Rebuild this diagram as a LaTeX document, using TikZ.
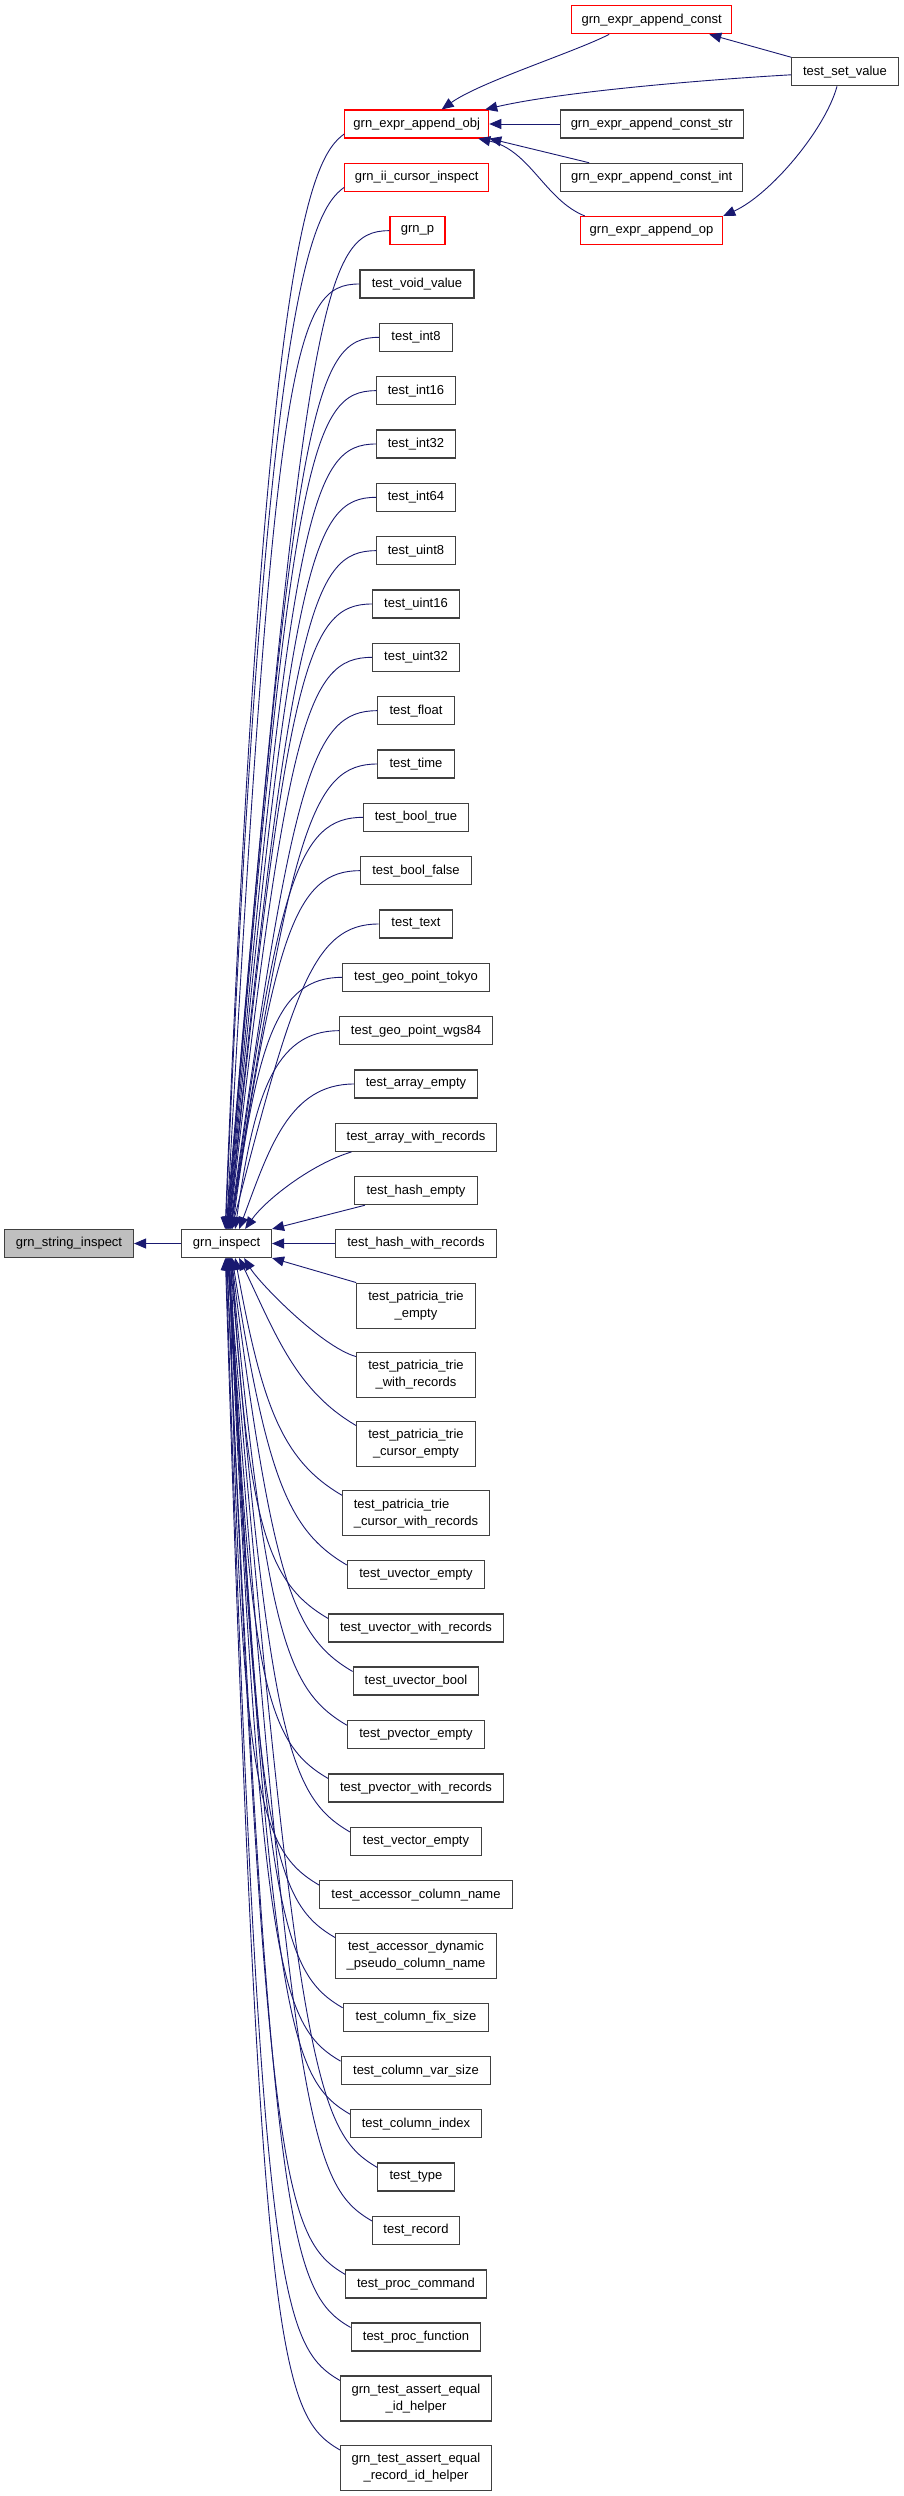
\documentclass[tikz,border=0pt]{standalone}
\usepackage{fontspec}
\setmainfont{Liberation Sans}
\usetikzlibrary{arrows.meta,calc}
\definecolor{edgecol}{HTML}{191970}
\definecolor{boxgray}{HTML}{404040}
\definecolor{fillgray}{HTML}{BFBFBF}
\newcommand{\cedge}[4]{\draw[conn] let \p1=(#1) in (\p1) .. controls ($(\p1)+(#2)$) and ($(\p1)+(#3)$) .. (#4);}
\newcommand{\tedge}[2]{\cedge{#1}{-65pt,0pt}{-85pt,-65pt}{[xshift=#2pt]gi.north west}}
\newcommand{\bedge}[2]{\cedge{#1}{-60pt,35pt}{-80pt,90pt}{[xshift=#2pt]gi.south west}}
\tikzset{
  nbox/.style={draw=boxgray, line width=1.1pt, fill=white, inner sep=0pt, minimum height=28pt,
    font=\fontsize{13}{17}\selectfont, text=black},
  rbox/.style={nbox, draw=red},
  tbox/.style={nbox, minimum height=45pt, align=center},
  conn/.style={draw=edgecol, line width=0.9pt, -{Triangle[length=12pt,width=10pt]}},
}
\begin{document}
\begin{tikzpicture}[x=1pt,y=-1pt]
\useasboundingbox (0,0) rectangle (904,2496);
% column A
\node[nbox, fill=fillgray, minimum width=129pt] (gsi) at (69,1243.5) {grn\_string\_inspect};
\node[nbox, minimum width=89.8pt] (gi) at (226.6,1243.5) {grn\_inspect};
% column C
\node[rbox, minimum width=160pt] (const) at (651.7,19.8) {grn\_expr\_append\_const};
\node[nbox, minimum width=106.6pt] (setv) at (845,71.8) {test\_set\_value};
\node[nbox, minimum width=182.7pt] (cstr) at (651.7,124) {grn\_expr\_append\_const\_str};
\node[nbox, minimum width=182pt] (cint) at (651.7,177.3) {grn\_expr\_append\_const\_int};
\node[rbox, minimum width=142.4pt] (op) at (651.5,230.5) {grn\_expr\_append\_op};
% column B
\node[rbox, minimum width=144pt] (obj) at (416.7,124) {grn\_expr\_append\_obj};
\node[rbox, minimum width=144pt] (ii) at (416.7,177.33) {grn\_ii\_cursor\_inspect};
\node[rbox, minimum width=55pt] (grnp) at (417.5,230.67) {grn\_p};
\node[nbox, minimum width=114pt] (void) at (417,284) {test\_void\_value};
\node[nbox, minimum width=72.6pt] (int8) at (416,337.33) {test\_int8};
\node[nbox, minimum width=78.6pt] (int16) at (416,390.67) {test\_int16};
\node[nbox, minimum width=78.6pt] (int32) at (416,444) {test\_int32};
\node[nbox, minimum width=78.6pt] (int64) at (416,497.33) {test\_int64};
\node[nbox, minimum width=78.6pt] (uint8) at (416,550.67) {test\_uint8};
\node[nbox, minimum width=87pt] (uint16) at (416,604) {test\_uint16};
\node[nbox, minimum width=87pt] (uint32) at (416,657.33) {test\_uint32};
\node[nbox, minimum width=76.3pt] (float) at (416,710.67) {test\_float};
\node[nbox, minimum width=76.3pt] (time) at (416,764) {test\_time};
\node[nbox, minimum width=105pt] (btrue) at (416,817.33) {test\_bool\_true};
\node[nbox, minimum width=111pt] (bfalse) at (416,870.67) {test\_bool\_false};
\node[nbox, minimum width=73.7pt] (text) at (416,924) {test\_text};
\node[nbox, minimum width=147pt] (tokyo) at (416,977.33) {test\_geo\_point\_tokyo};
\node[nbox, minimum width=152.6pt] (wgs) at (416,1030.67) {test\_geo\_point\_wgs84};
\node[nbox, minimum width=123pt] (aempty) at (416,1084) {test\_array\_empty};
\node[nbox, minimum width=161.7pt] (awr) at (416,1137.33) {test\_array\_with\_records};
\node[nbox, minimum width=123pt] (hempty) at (416,1190.67) {test\_hash\_empty};
\node[nbox, minimum width=160.6pt] (hwr) at (416,1243.5) {test\_hash\_with\_records};
\node[tbox, minimum width=118.6pt] (pe) at (416,1305.6) {test\_patricia\_trie\\\_empty};
\node[tbox, minimum width=119pt] (pw) at (416,1374.6) {test\_patricia\_trie\\\_with\_records};
\node[tbox, minimum width=118.6pt] (pce) at (416,1443.6) {test\_patricia\_trie\\\_cursor\_empty};
\node[tbox, align=left, minimum width=147pt] (pcw) at (416,1513.3) {test\_patricia\_trie\\\_cursor\_with\_records};
\node[nbox, minimum width=137.3pt] (uve) at (416,1574.5) {test\_uvector\_empty};
\node[nbox, minimum width=174.7pt] (uvw) at (416,1628) {test\_uvector\_with\_records};
\node[nbox, minimum width=125.7pt] (uvb) at (416,1681) {test\_uvector\_bool};
\node[nbox, minimum width=137.3pt] (pve) at (416,1734.7) {test\_pvector\_empty};
\node[nbox, minimum width=174.7pt] (pvw) at (416,1788) {test\_pvector\_with\_records};
\node[nbox, minimum width=131pt] (ve) at (416,1841.5) {test\_vector\_empty};
\node[nbox, minimum width=192.3pt] (acn) at (416,1894.7) {test\_accessor\_column\_name};
\node[tbox, minimum width=160.7pt] (adp) at (416,1955.6) {test\_accessor\_dynamic\\\_pseudo\_column\_name};
\node[nbox, minimum width=145.7pt] (cfs) at (416,2017.3) {test\_column\_fix\_size};
\node[nbox, minimum width=149.7pt] (cvs) at (416,2070.7) {test\_column\_var\_size};
\node[nbox, minimum width=131pt] (cidx) at (416,2123.7) {test\_column\_index};
\node[nbox, minimum width=76.3pt] (ttype) at (416,2177) {test\_type};
\node[nbox, minimum width=87pt] (trec) at (416,2230.5) {test\_record};
\node[nbox, minimum width=140.3pt] (pcmd) at (416,2284) {test\_proc\_command};
\node[nbox, minimum width=129.7pt] (pfun) at (416,2337) {test\_proc\_function};
\node[tbox, minimum width=151pt] (idh) at (416,2398.5) {grn\_test\_assert\_equal\\\_id\_helper};
\node[tbox, minimum width=151pt] (ridh) at (416,2468) {grn\_test\_assert\_equal\\\_record\_id\_helper};
% edges: top right group
\draw[conn] ([xshift=38pt]const.south west) .. controls (575,52) and (480,82) .. ([xshift=25pt]obj.north);
\draw[conn] (setv.north west) -- ([xshift=-23pt]const.south east);
\draw[conn] ([yshift=-3pt]setv.west) .. controls (700,80) and (560,92) .. ([xshift=-4pt]obj.north east);
\draw[conn] (cstr.west) -- (obj.east);
\draw[conn] ([xshift=29pt]cint.north west) -- (obj.south east);
\draw[conn] ([xshift=5pt]op.north west) .. controls (545,200) and (530,150) .. ([xshift=-11pt]obj.south east);
\draw[conn] ([xshift=-8pt]setv.south) .. controls (825,130) and (770,195) .. (op.north east);
% grn_inspect -> grn_string_inspect
\draw[conn] (gi.west) -- (gsi.east);
% callers above grn_inspect
\cedge{[yshift=4.5pt]obj.south west}{-35pt,-25pt}{-80pt,-120pt}{[xshift=44pt]gi.north west}
\cedge{[yshift=4.5pt]ii.south west}{-35pt,-25pt}{-80pt,-120pt}{[xshift=44.5pt]gi.north west}
\tedge{grnp.west}{45}
\tedge{void.west}{45.4}
\tedge{int8.west}{45.8}
\tedge{int16.west}{46.2}
\tedge{int32.west}{46.6}
\tedge{int64.west}{47}
\tedge{uint8.west}{47.4}
\tedge{uint16.west}{47.8}
\tedge{uint32.west}{48.2}
\tedge{float.west}{48.6}
\tedge{time.west}{49}
\tedge{btrue.west}{49.4}
\tedge{bfalse.west}{49.8}
\tedge{text.west}{50.4}
\tedge{tokyo.west}{51.2}
\tedge{wgs.west}{54}
\tedge{aempty.west}{58}
\cedge{[xshift=17pt]awr.south west}{-40pt,-12pt}{-86pt,-48pt}{[xshift=64pt]gi.north west}
\draw[conn] ([xshift=11pt]hempty.south west) -- (gi.north east);
\draw[conn] (hwr.west) -- (gi.east);
% callers below grn_inspect
\draw[conn] (pe.north west) -- (gi.south east);
\cedge{[yshift=-5pt]pw.north west}{-35pt,10pt}{-97pt,74pt}{[xshift=63pt]gi.south west}
\bedge{[yshift=-5pt]pce.north west}{58}
\bedge{[yshift=-5pt]pcw.north west}{54}
\bedge{[yshift=-5pt]uve.north west}{51}
\bedge{[yshift=-5pt]uvw.north west}{50.6}
\bedge{[yshift=-5pt]uvb.north west}{50.2}
\bedge{[yshift=-5pt]pve.north west}{49.8}
\bedge{[yshift=-5pt]pvw.north west}{49.4}
\bedge{[yshift=-5pt]ve.north west}{49}
\bedge{[yshift=-5pt]acn.north west}{48.6}
\bedge{[yshift=-5pt]adp.north west}{48.2}
\bedge{[yshift=-5pt]cfs.north west}{47.8}
\bedge{[yshift=-5pt]cvs.north west}{47.4}
\bedge{[yshift=-5pt]cidx.north west}{47}
\bedge{[yshift=-5pt]ttype.north west}{46.6}
\bedge{[yshift=-5pt]trec.north west}{46.2}
\bedge{[yshift=-5pt]pcmd.north west}{45.8}
\bedge{[yshift=-5pt]pfun.north west}{45.4}
\bedge{[yshift=-5pt]idh.north west}{44.8}
\bedge{[yshift=-5pt]ridh.north west}{44.2}
\end{tikzpicture}
\end{document}
